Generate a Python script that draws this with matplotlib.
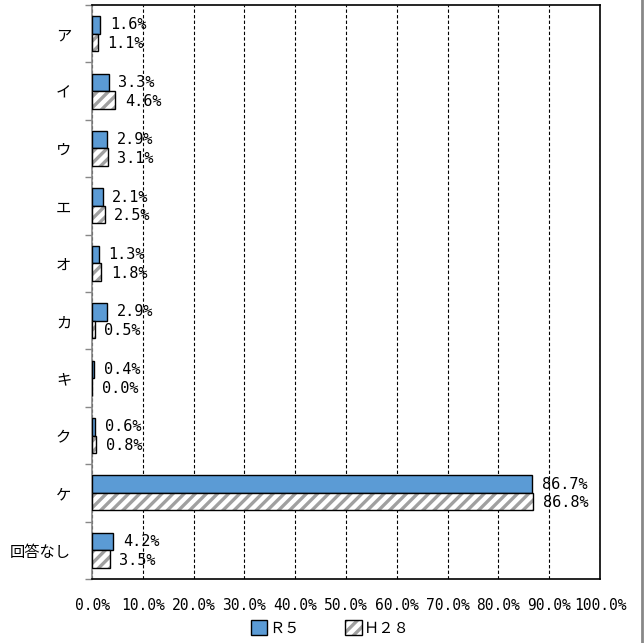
import numpy as np
import matplotlib
matplotlib.use('Agg')
import matplotlib.pyplot as plt
from matplotlib.patches import Patch
from matplotlib.lines import Line2D
from matplotlib.legend_handler import HandlerTuple
from matplotlib.ticker import FuncFormatter

plt.rcParams['font.family'] = ['Noto Sans CJK JP', 'DejaVu Sans']
plt.rcParams['hatch.linewidth'] = 2.4
num_font = ['DejaVu Sans Mono', 'Noto Sans CJK JP']

categories = ['ア', 'イ', 'ウ', 'エ', 'オ', 'カ', 'キ', 'ク', 'ケ', '回答なし']
r5 = [1.6, 3.3, 2.9, 2.1, 1.3, 2.9, 0.4, 0.6, 86.7, 4.2]
h28 = [1.1, 4.6, 3.1, 2.5, 1.8, 0.5, 0.0, 0.8, 86.8, 3.5]
series_names = ['Ｒ５', 'Ｈ２８']

blue = '#5B9BD5'
hatch_gray = '#a0a0a0'

fig = plt.figure(figsize=(6.44, 6.43), dpi=100)
ax = fig.add_axes([92/644, 64/643, 508/644, 574/643])

y = np.arange(len(categories))
h = 0.305

# R5 bars (upper half of each group)
ax.barh(y - h/2, r5, height=h, color=blue, edgecolor='black', linewidth=1, zorder=3)
# H28 bars: gray hatch, then black outline on top
ax.barh(y + h/2, h28, height=h, color='white', edgecolor=hatch_gray, hatch='///',
        linewidth=0, zorder=3)
ax.barh(y + h/2, h28, height=h, fill=False, edgecolor='black', linewidth=1, zorder=4)

for yi, v in zip(y, r5):
    ax.text(v + 1.9, yi - h/2, '%.1f%%' % v, va='center', ha='left', fontsize=11,
            family=num_font, zorder=5)
for yi, v in zip(y, h28):
    ax.text(v + 1.9, yi + h/2 + 0.02, '%.1f%%' % v, va='center', ha='left', fontsize=11,
            family=num_font, zorder=5)

ax.set_xlim(0, 100)
ax.set_ylim(len(categories) - 0.5, -0.5)
ax.set_xticks(np.arange(0, 101, 10))
ax.xaxis.set_major_formatter(FuncFormatter(lambda v, p: '%.1f%%' % v))
ax.tick_params(axis='x', length=0, pad=14)
for lab in ax.get_xticklabels():
    lab.set_family(num_font)
    lab.set_fontsize(10.5)

ax.set_yticks(y)
ax.set_yticklabels(categories, fontsize=11)
ax.set_yticks(np.arange(-0.5, len(categories), 1), minor=True)
ax.tick_params(axis='y', which='major', length=0, pad=15)
ax.tick_params(axis='y', which='minor', length=5, color='#888888', width=1)

ax.grid(axis='x', color='black', linestyle=(0, (3, 2)), linewidth=0.8, zorder=1)
for s in ax.spines.values():
    s.set_color('black')
    s.set_linewidth(1.2)
ax.spines['left'].set_color('#888888')

h_r5 = Patch(facecolor=blue, edgecolor='black', linewidth=1)
h_h28 = (Patch(facecolor='white', edgecolor=hatch_gray, hatch='///', linewidth=0),
         Patch(fill=False, edgecolor='black', linewidth=1))
fig.legend([h_r5, h_h28], series_names, loc='center', bbox_to_anchor=(330/644, 15/643),
           ncol=2, frameon=False, fontsize=11, handlelength=1.1, handleheight=1.1,
           handletextpad=0.1, columnspacing=3.0,
           handler_map={tuple: HandlerTuple(ndivide=1, pad=0)})

fig.add_artist(Line2D([641.5/644, 641.5/644], [0, 1], color='#888888', linewidth=2,
                      transform=fig.transFigure))

fig.savefig('out.png', dpi=100)
